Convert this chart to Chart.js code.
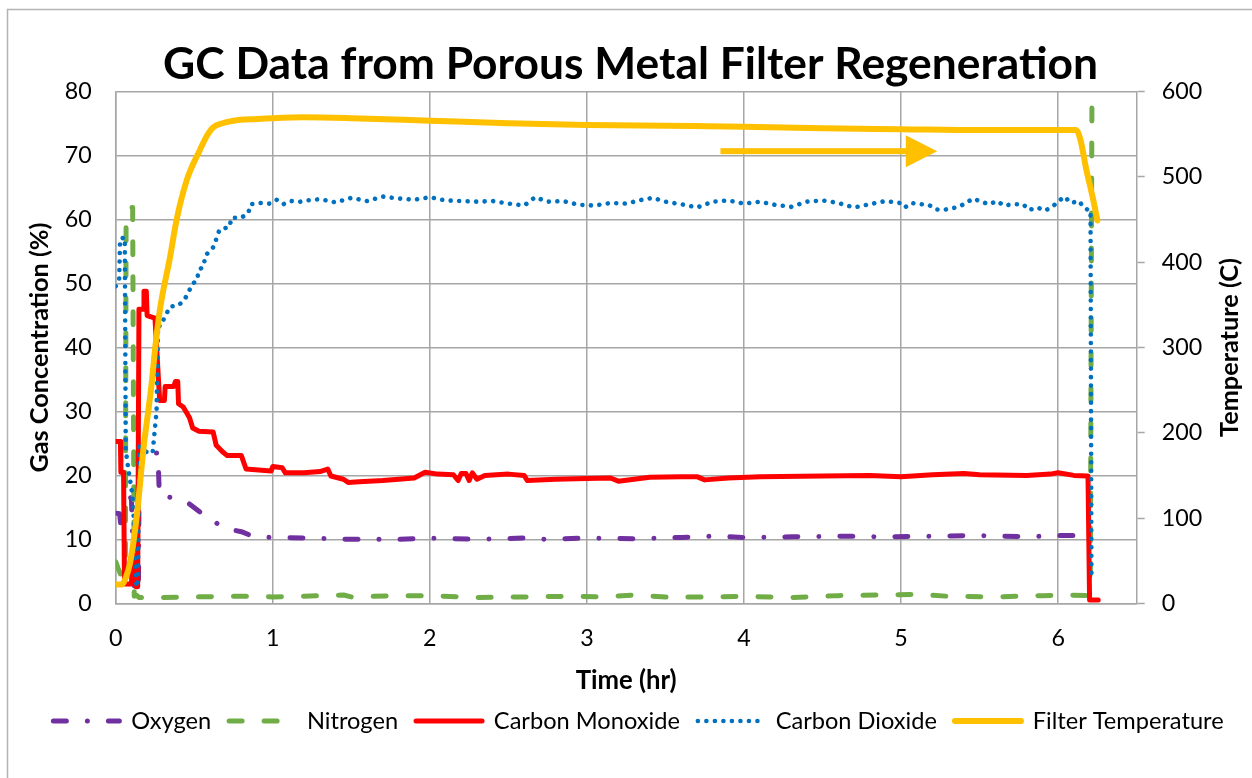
<!DOCTYPE html>
<html>
<head>
<meta charset="utf-8">
<script src="https://cdn.jsdelivr.net/npm/chart.js@4.4.1/dist/chart.umd.min.js"></script>
<style>
html,body{margin:0;padding:0;background:#fff;}
#wrap{width:1252px;height:778px;position:relative;}
</style>
</head>
<body>
<div id="wrap"><canvas id="c" width="1252" height="778"></canvas></div>
<script>
// ---------------- DATA ----------------
const chartTitle = 'GC Data from Porous Metal Filter Regeneration';
const xAxisTitle = 'Time (hr)';
const yAxisTitle = 'Gas Concentration (%)';
const y2AxisTitle = 'Temperature (C)';
const seriesNames = ['Oxygen', 'Nitrogen', 'Carbon Monoxide', 'Carbon Dioxide', 'Filter Temperature'];

const oxygenTime = [0, 0.025, 0.032, 0.06, 0.066, 0.1, 0.115, 0.135, 0.145, 0.15, 0.27, 0.273, 0.278, 0.37, 0.45, 0.53, 0.58, 0.61, 0.68, 0.8, 0.88, 1.0, 1.25, 1.5, 1.8, 2.0, 2.3, 2.6, 2.75, 3.0, 3.3, 3.6, 3.8, 4.0, 4.3, 4.6, 4.9, 5.2, 5.5, 5.8, 6.0, 6.19];
const oxygenPct  = [14.1, 14.0, 12.3, 11.8, 16.5, 16.5, 3.0, 1.6, 3.0, 23.5, 23.5, 20.4, 16.8, 16.5, 15.9, 14.4, 13.4, 13.2, 11.8, 11.2, 10.4, 10.3, 10.2, 10.0, 10.0, 10.2, 10.0, 10.2, 10.0, 10.2, 10.1, 10.3, 10.5, 10.3, 10.4, 10.5, 10.4, 10.5, 10.6, 10.4, 10.6, 10.6];

const nitrogenTime = [0, 0.015, 0.03, 0.055, 0.062, 0.066, 0.1, 0.108, 0.118, 0.13, 0.15, 0.3, 0.5, 0.8, 1.0, 1.2, 1.45, 1.5, 1.8, 2.0, 2.3, 2.6, 2.9, 3.1, 3.3, 3.5, 3.8, 4.0, 4.3, 4.6, 4.9, 5.1, 5.3, 5.6, 5.9, 6.05, 6.19, 6.205, 6.215];
const nitrogenPct  = [6.5, 5.5, 4.6, 4.6, 8.0, 59.7, 61.9, 61.9, 1.1, 1.3, 0.9, 0.9, 1.0, 1.1, 1.0, 1.1, 1.3, 1.0, 1.2, 1.2, 0.9, 1.0, 1.1, 1.0, 1.3, 1.0, 1.0, 1.1, 0.9, 1.2, 1.3, 1.4, 1.1, 1.0, 1.2, 1.3, 1.2, 5.0, 78.5];

const monoxideTime = [0, 0.03, 0.033, 0.05, 0.056, 0.1, 0.108, 0.118, 0.124, 0.13, 0.14, 0.148, 0.175, 0.18, 0.195, 0.2, 0.25, 0.28, 0.31, 0.315, 0.37, 0.38, 0.395, 0.40, 0.43, 0.47, 0.49, 0.53, 0.62, 0.64, 0.68, 0.71, 0.8, 0.83, 0.99, 1.0, 1.06, 1.08, 1.2, 1.3, 1.35, 1.37, 1.45, 1.48, 1.55, 1.7, 1.9, 1.97, 2.05, 2.15, 2.18, 2.2, 2.23, 2.25, 2.27, 2.3, 2.35, 2.5, 2.6, 2.62, 2.8, 3.0, 3.15, 3.2, 3.4, 3.6, 3.7, 3.75, 3.9, 4.1, 4.5, 4.8, 5.0, 5.2, 5.4, 5.5, 5.8, 5.95, 6.0, 6.1, 6.19, 6.2, 6.255];
const monoxidePct  = [25.3, 25.3, 20.5, 20.5, 3.0, 3.0, 7.5, 7.5, 3.0, 2.6, 2.6, 46.0, 46.0, 48.8, 48.8, 45.0, 44.6, 31.7, 31.7, 33.9, 33.9, 34.7, 34.7, 31.2, 30.7, 29.0, 27.4, 26.9, 26.8, 24.7, 23.7, 23.1, 23.1, 21.0, 20.7, 21.4, 21.2, 20.4, 20.4, 20.6, 21.0, 19.9, 19.4, 18.9, 19.0, 19.2, 19.6, 20.5, 20.2, 20.1, 19.2, 20.3, 20.3, 19.2, 20.4, 19.4, 20.0, 20.2, 20.0, 19.2, 19.4, 19.5, 19.6, 19.1, 19.7, 19.8, 19.8, 19.3, 19.6, 19.8, 19.9, 20.0, 19.8, 20.1, 20.3, 20.1, 20.0, 20.2, 20.4, 20.0, 19.9, 0.5, 0.5];

const dioxideTime = [0, 0.022, 0.028, 0.058, 0.064, 0.08, 0.1, 0.11, 0.125, 0.132, 0.142, 0.15, 0.2, 0.235, 0.26, 0.27, 0.283, 0.346, 0.40, 0.435, 0.462, 0.483, 0.52, 0.526, 0.562, 0.568, 0.60, 0.632, 0.643, 0.664, 0.723, 0.738, 0.80, 0.844, 0.859, 0.918, 0.978, 1.025, 1.067, 1.114, 1.173, 1.22, 1.3, 1.4, 1.5, 1.6, 1.7, 1.8, 1.9, 2.0, 2.1, 2.2, 2.3, 2.4, 2.5, 2.6, 2.67, 2.75, 2.85, 2.95, 3.05, 3.15, 3.25, 3.35, 3.42, 3.5, 3.6, 3.7, 3.8, 3.9, 4.0, 4.1, 4.2, 4.3, 4.4, 4.5, 4.6, 4.7, 4.8, 4.9, 4.992, 5.024, 5.067, 5.13, 5.177, 5.221, 5.262, 5.311, 5.368, 5.412, 5.459, 5.51, 5.561, 5.612, 5.654, 5.714, 5.777, 5.815, 5.866, 5.917, 5.968, 6.003, 6.041, 6.079, 6.134, 6.164, 6.206, 6.212];
const dioxidePct  = [49.6, 50.5, 57.0, 57.2, 24.0, 21.0, 18.0, 16.0, 7.0, 2.5, 4.0, 24.5, 23.6, 23.5, 30.0, 43.5, 43.3, 46.4, 46.6, 47.4, 48.5, 49.8, 50.6, 52.0, 52.8, 54.3, 55.1, 56.0, 57.4, 58.5, 58.8, 60.3, 60.3, 61.0, 62.4, 62.6, 62.5, 63.1, 62.4, 62.9, 62.8, 63.0, 63.2, 62.7, 63.4, 62.9, 63.6, 63.3, 63.1, 63.5, 63.0, 62.9, 62.8, 62.9, 62.5, 62.2, 63.5, 62.8, 62.9, 62.3, 62.2, 62.6, 62.5, 63.1, 63.4, 62.8, 62.4, 61.9, 62.8, 63.0, 62.5, 62.8, 62.3, 62.0, 62.8, 63.0, 62.6, 61.9, 62.4, 62.9, 62.6, 61.9, 62.6, 62.4, 62.3, 61.6, 61.5, 61.7, 62.0, 62.6, 63.3, 62.8, 62.4, 62.9, 62.2, 62.4, 62.4, 61.5, 61.9, 61.4, 62.1, 62.9, 63.6, 62.6, 62.9, 61.8, 61.4, 3.5];

const temperatureTime = [0, 0.04, 0.06, 0.091, 0.134, 0.176, 0.229, 0.25, 0.282, 0.346, 0.388, 0.452, 0.537, 0.58, 0.62, 0.68, 0.75, 0.9, 1.0, 1.2, 1.5, 2.0, 2.5, 3.0, 3.5, 4.0, 4.5, 5.0, 5.5, 6.0, 6.115, 6.14, 6.18, 6.22, 6.25];
const temperatureC    = [22, 22, 28, 47, 102, 180, 258, 297, 345, 406, 450, 496, 532, 548, 558, 563, 566, 568, 569, 570, 569, 566, 563, 561, 560, 559, 557, 556, 555, 555, 555, 545, 508, 476, 449];

// ---------------- STYLE / LAYOUT ----------------
const FONT = 'Lato, "Open Sans", "DejaVu Sans", sans-serif';
const GRID = '#a6a6a6';
const PLOT = {left: 115.7, right: 1136.7, top: 91.7, bottom: 603.3};
const mctx = document.createElement('canvas').getContext('2d');
function fitSize(text, weight, target) {
  mctx.font = weight + ' 100px ' + FONT;
  return +(100 * target / mctx.measureText(text).width).toFixed(2);
}
const titleSize = fitSize(chartTitle, 'bold', 935);
const legendSize = fitSize('Carbon Monoxide', 'normal', 186);
const tickSize = fitSize('80', 'normal', 27);
const xTitleSize = fitSize(xAxisTitle, 'bold', 101);
const yTitleSize = fitSize(yAxisTitle, 'bold', 250);
const y2TitleSize = fitSize(y2AxisTitle, 'bold', 179);

const padLeft = 25;
const legendPad = 18;
const legendTop = 703 - legendSize / 2;
const padBottom = 778 - legendTop - (legendSize + legendPad + 10);
const titleLH = titleSize * 1.2;
const titlePadTop = 65 - titleLH / 2;
const titlePadBottom = PLOT.top - titlePadTop - titleLH;
const xTitleLH = xTitleSize * 1.2;
const yTitleLH = yTitleSize * 1.2;

const pts = (t, v) => t.map((x, i) => ({x: x, y: v[i]}));

const seriesStyle = [
  {color: '#7030A0', width: 5, dash: [13, 21, 0.01, 21], cap: 'round', axis: 'y', order: 5},
  {color: '#70AD47', width: 5, dash: [13, 22], cap: 'round', axis: 'y', order: 4},
  {color: '#FF0000', width: 5, dash: [], cap: 'round', axis: 'y', order: 3},
  {color: '#0070C0', width: 4.6, dash: [0.01, 8.5], cap: 'round', axis: 'y', order: 2},
  {color: '#FFC000', width: 6, dash: [], cap: 'round', axis: 'y2', order: 1}
];
const seriesData = [
  pts(oxygenTime, oxygenPct),
  pts(nitrogenTime, nitrogenPct),
  pts(monoxideTime, monoxidePct),
  pts(dioxideTime, dioxidePct),
  pts(temperatureTime, temperatureC)
];

const datasets = seriesNames.map((name, i) => {
  const s = seriesStyle[i];
  return {
    label: name,
    data: seriesData[i],
    yAxisID: s.axis,
    borderColor: s.color,
    backgroundColor: s.color,
    borderWidth: s.width,
    borderDash: s.dash,
    borderCapStyle: s.cap,
    borderJoinStyle: 'round',
    pointRadius: 0,
    pointHoverRadius: 0,
    fill: false,
    order: s.order,
    cubicInterpolationMode: i === 4 ? 'monotone' : 'default',
    tension: 0
  };
});

// ---------------- PLUGINS ----------------
const framePlugin = {
  id: 'frame',
  afterLayout(chart) {
    if (chart.titleBlock) { chart.titleBlock.left = 9; chart.titleBlock.right = 1252; }
  },
  beforeDraw(chart) {
    const c = chart.ctx;
    c.save();
    c.fillStyle = '#ffffff';
    c.fillRect(0, 0, chart.width, chart.height);
    c.strokeStyle = '#b4b4b4';
    c.lineWidth = 1.5;
    c.beginPath();
    c.moveTo(7.5, chart.height);
    c.lineTo(7.5, 9.5);
    c.lineTo(chart.width, 9.5);
    c.stroke();
    c.restore();
  }
};

const arrowPlugin = {
  id: 'arrow',
  afterDatasetsDraw(chart) {
    const xs = chart.scales.x, ys = chart.scales.y;
    const x0 = xs.getPixelForValue(3.85), xb = xs.getPixelForValue(5.03), xt = xs.getPixelForValue(5.23);
    const yc = ys.getPixelForValue(70.7);
    const c = chart.ctx;
    c.save();
    c.fillStyle = '#FFC000';
    c.fillRect(x0, yc - 3, xb - x0 + 1, 6);
    c.beginPath();
    c.moveTo(xb, yc - 16);
    c.lineTo(xt, yc);
    c.lineTo(xb, yc + 16);
    c.closePath();
    c.fill();
    c.restore();
  }
};

const rightTitlePlugin = {
  id: 'rightTitle',
  afterDraw(chart) {
    const a = chart.chartArea;
    const c = chart.ctx;
    c.save();
    c.translate(1230, (a.top + a.bottom) / 2);
    c.rotate(-Math.PI / 2);
    c.font = 'bold ' + y2TitleSize + 'px ' + FONT;
    c.fillStyle = '#000';
    c.textAlign = 'center';
    c.textBaseline = 'middle';
    c.fillText(y2AxisTitle, 0, 0);
    c.restore();
  }
};

// ---------------- CHART ----------------
Chart.defaults.font.family = FONT;
Chart.defaults.color = '#000';

new Chart(document.getElementById('c'), {
  type: 'line',
  data: {datasets: datasets},
  options: {
    responsive: false,
    animation: false,
    devicePixelRatio: 1,
    events: [],
    layout: {padding: {left: padLeft, right: 0, top: 0, bottom: padBottom}},
    plugins: {
      title: {
        display: true,
        text: chartTitle,
        color: '#000',
        font: {size: titleSize, weight: 'bold', family: FONT, lineHeight: 1.2},
        padding: {top: titlePadTop, bottom: titlePadBottom}
      },
      legend: {
        display: true,
        position: 'bottom',
        labels: {
          usePointStyle: true,
          pointStyleWidth: 66,
          padding: legendPad,
          color: '#000',
          font: {size: legendSize, family: FONT},
          sort: (a, b) => a.datasetIndex - b.datasetIndex,
          generateLabels(chart) {
            return chart.data.datasets.map((ds, i) => ({
              text: ds.label,
              datasetIndex: i,
              fillStyle: ds.borderColor,
              strokeStyle: ds.borderColor,
              lineWidth: ds.borderWidth,
              lineDash: ds.borderDash,
              lineCap: ds.borderCapStyle,
              pointStyle: 'line',
              hidden: false,
              fontColor: '#000'
            }));
          }
        }
      },
      tooltip: {enabled: false}
    },
    scales: {
      x: {
        type: 'linear',
        position: 'bottom',
        min: 0, max: 6.5,
        afterFit(s) { s.height = legendTop - PLOT.bottom; },
        ticks: {stepSize: 1, includeBounds: false, padding: 638.5 - PLOT.bottom - tickSize * 0.6, font: {size: tickSize}, color: '#000', maxRotation: 0},
        grid: {color: GRID, lineWidth: 1.5, drawTicks: false},
        border: {display: true, color: GRID, width: 1.5},
        title: {display: true, text: xAxisTitle, color: '#000', font: {size: xTitleSize, weight: 'bold'}, padding: {top: 0, bottom: legendTop - 681 - xTitleLH / 2}}
      },
      y: {
        type: 'linear',
        position: 'left',
        min: 0, max: 80,
        afterFit(s) { s.width = PLOT.left - padLeft; },
        ticks: {stepSize: 10, padding: 24, font: {size: tickSize}, color: '#000'},
        grid: {color: GRID, lineWidth: 1.5, drawTicks: false},
        border: {display: true, color: GRID, width: 1.5},
        title: {display: true, text: yAxisTitle, color: '#000', font: {size: yTitleSize, weight: 'bold'}, padding: {top: 40 - padLeft - yTitleLH / 2, bottom: 0}}
      },
      y2: {
        type: 'linear',
        position: 'right',
        min: 0, max: 600,
        afterFit(s) { s.width = 1252 - PLOT.right; },
        ticks: {stepSize: 100, padding: 17, font: {size: tickSize}, color: '#000'},
        grid: {drawOnChartArea: false, drawTicks: true, tickLength: 8, tickColor: GRID, tickWidth: 1.5, color: GRID},
        border: {display: true, color: GRID, width: 1.5},
        title: {display: false}
      }
    }
  },
  plugins: [framePlugin, arrowPlugin, rightTitlePlugin]
});
</script>
</body>
</html>
